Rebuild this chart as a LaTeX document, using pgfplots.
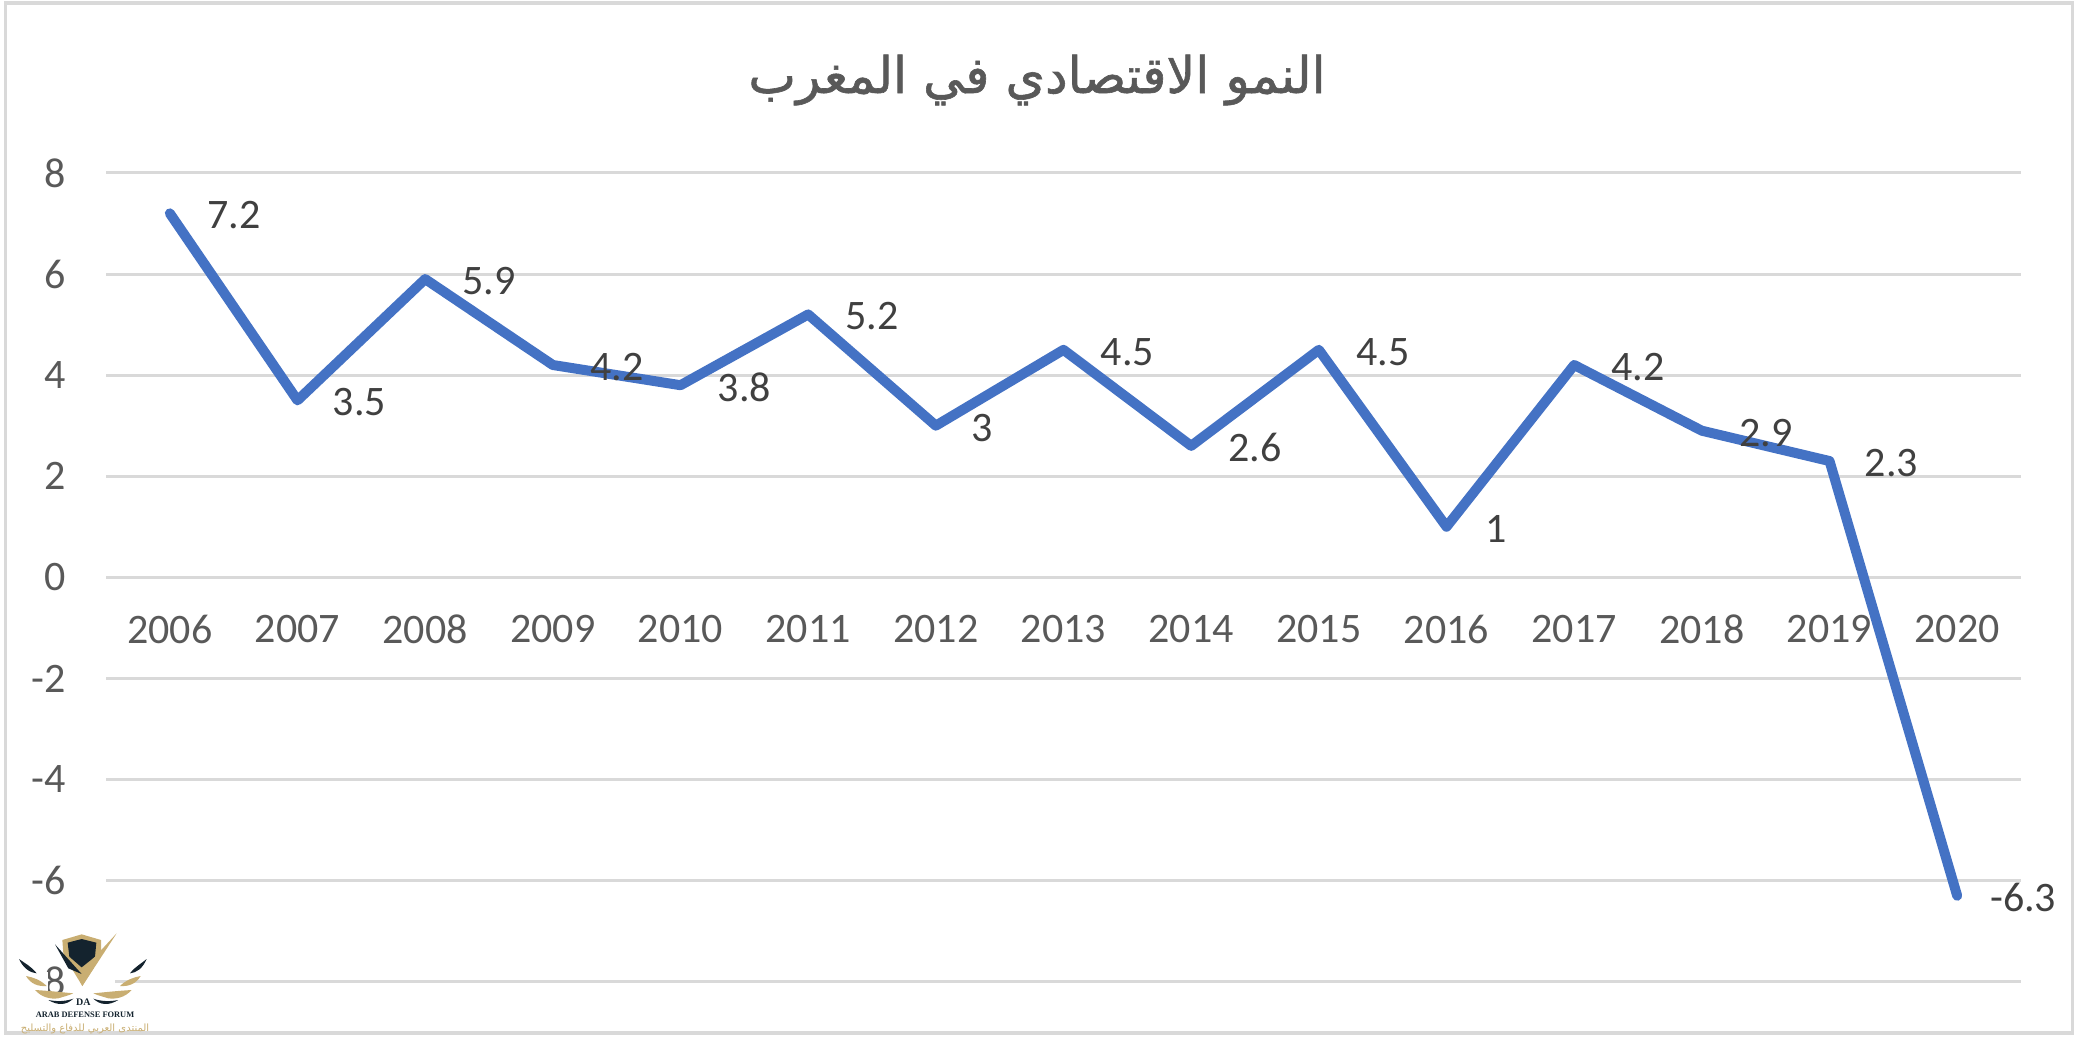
\documentclass[border=0pt]{standalone}
\usepackage{fontspec}
\usepackage{pgfplots}
\usepackage{pgfplotstable}
\pgfplotsset{compat=1.18}
\setmainfont{Carlito}
\newfontfamily\arabicfont[Script=Arabic]{DejaVu Sans}
\newfontfamily\arabictitle[Script=Arabic,FakeBold=1.2]{DejaVu Sans}
\newfontfamily\logofont{Liberation Serif}
\TeXXeTstate=1
\definecolor{lineblue}{HTML}{4472C4}
\definecolor{gridgray}{HTML}{D9D9D9}
\definecolor{ticktext}{HTML}{595959}
\definecolor{labeltext}{HTML}{404040}
\definecolor{logogold}{HTML}{C9AE72}
\definecolor{logodark}{HTML}{14232E}
\pgfplotstableread{
x y lab dx dy
2006 7.2 7.2 32 -1
2007 3.5 3.5 31 -1
2008 5.9 5.9 32 -1
2009 4.2 4.2 32 -1
2010 3.8 3.8 32 -1
2011 5.2 5.2 32 -1
2012 3 3 23 -1
2013 4.5 4.5 32 -1
2014 2.6 2.6 32 -1
2015 4.5 4.5 32 -1
2016 1 1 25 -1
2017 4.2 4.2 32 -1
2018 2.9 2.9 32 -1
2019 2.3 2.3 31 -1
2020 -6.3 -6.3 33 -1
}\growth
\begin{document}
\begin{tikzpicture}
\useasboundingbox (0,0) rectangle (1040pt,520pt);
\draw[gridgray,line width=1.6pt] (2.6pt,3.5pt) rectangle (1036.2pt,518.5pt);
\begin{axis}[
  at={(53pt,29.15pt)},anchor=south west,
  scale only axis,width=957.5pt,height=404.4pt,
  xmin=2005.5,xmax=2020.5,ymin=-8,ymax=8,
  clip=false,
  axis x line=middle,axis y line=left,
  axis line style={draw=none,-},
  hide obscured x ticks=false,hide obscured y ticks=false,
  major tick length=0pt,
  ymajorgrids,
  grid style={gridgray,line width=1.5pt},
  xtick={2006,...,2020},
  xticklabels={2006,2007,2008,2009,2010,2011,2012,2013,2014,2015,2016,2017,2018,2019,2020},
  ytick={-8,-6,-4,-2,0,2,4,6,8},
  yticklabels={-8,-6,-4,-2,0,2,4,6,8},
  x tick label style={font=\fontsize{21}{25}\selectfont,text=ticktext,anchor=center,yshift=-26pt,inner sep=0pt},
  y tick label style={font=\fontsize{21}{25}\selectfont,text=ticktext,anchor=east,xshift=-20pt,inner sep=0pt},
]
\addplot[lineblue,line width=5pt,line cap=round,line join=round,
  point meta=explicit symbolic,
  visualization depends on={\thisrow{dx} \as \labdx},
  visualization depends on={\thisrow{dy} \as \labdy},
  nodes near coords,
  every node near coord/.append style={font=\fontsize{21}{25}\selectfont,text=labeltext,anchor=center,inner sep=0pt,xshift=\labdx pt,yshift=\labdy pt},
] table[x=x,y=y,meta=lab] {\growth};
\end{axis}
\node[text=ticktext,inner sep=0pt] at (518.5pt,480pt) {\fontsize{25.3}{30}\selectfont\arabictitle\beginR النمو الاقتصادي في المغرب\endR};
% watermark logo, in coordinates of the 3x crop
\begin{scope}[shift={(0,70pt)},x=0.16667pt,y=-0.16667pt]
\fill[white] (95,215) rectangle (143,275);
\fill[white] (318,235) rectangle (345,255);
\fill[logogold] (187,120) -- (245,103) -- (303,120) -- (303,160) -- (280,205) -- (247,258) -- (215,205) -- (190,160) -- cycle;
\fill[logodark] (203,128) -- (245,117) -- (289,128) -- (285,170) -- (245,202) -- (208,170) -- cycle;
\fill[logogold] (235,232) -- (247,258) -- (350,100) -- (262,195) -- cycle;
\fill[logodark] (165,133) -- (245,222) -- (205,205) -- cycle;
\fill[logodark] (57,177) .. controls (70,205) and (90,218) .. (110,220) .. controls (95,200) and (75,190) .. (57,177) -- cycle;
\fill[logodark] (440,177) .. controls (428,205) and (410,218) .. (390,220) .. controls (405,200) and (425,190) .. (440,177) -- cycle;
\fill[logogold] (78,228) .. controls (92,252) and (115,260) .. (140,258) .. controls (122,240) and (100,232) .. (78,228) -- cycle;
\fill[logogold] (422,228) .. controls (408,252) and (385,260) .. (360,258) .. controls (378,240) and (400,232) .. (422,228) -- cycle;
\fill[logogold] (105,270) .. controls (125,292) and (150,298) .. (175,295) .. controls (190,290) and (205,287) .. (220,280) .. controls (180,276) and (140,272) .. (105,270) -- cycle;
\fill[logogold] (395,270) .. controls (375,292) and (350,298) .. (325,295) .. controls (310,290) and (295,287) .. (280,280) .. controls (320,276) and (360,272) .. (395,270) -- cycle;
\fill[logodark] (145,300) .. controls (175,318) and (200,315) .. (220,296) .. controls (200,303) and (175,306) .. (145,300) -- cycle;
\fill[logodark] (355,300) .. controls (325,318) and (300,315) .. (280,296) .. controls (300,303) and (325,306) .. (355,300) -- cycle;
\node[text=logodark,inner sep=0pt] at (250,308) {\logofont\bfseries\fontsize{5}{6}\selectfont DA};
\node[text=logodark,inner sep=0pt] at (255,345) {\logofont\bfseries\fontsize{4.2}{5}\selectfont ARAB DEFENSE FORUM};
\node[text=logogold,inner sep=0pt] at (255,388) {\fontsize{5}{6}\selectfont\arabicfont\beginR المنتدى العربي للدفاع والتسليح\endR};
\end{scope}
\end{tikzpicture}
\end{document}
